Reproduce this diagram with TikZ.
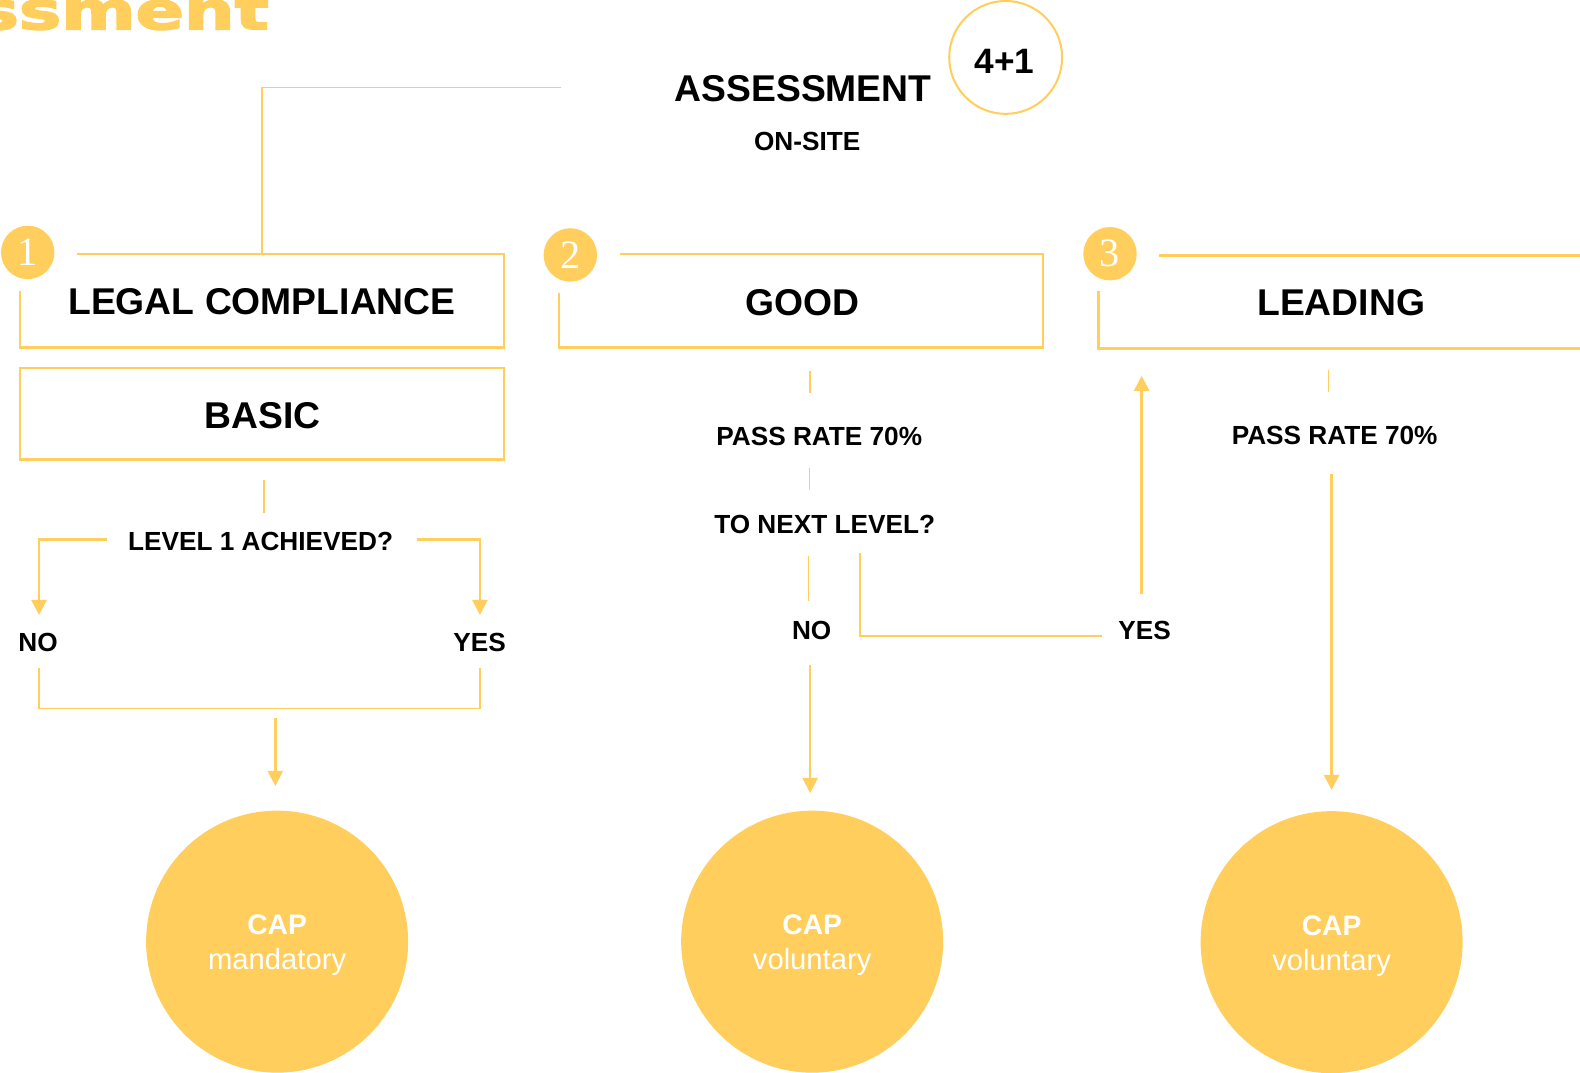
\documentclass[tikz,border=0pt]{standalone}
\usepackage{fontspec}
\setmainfont{Liberation Sans}
\newfontfamily\numfont{Liberation Serif}
\newfontfamily\heavyfont{DejaVu Sans}[BoldFeatures={FakeBold=3}]
\usetikzlibrary{arrows.meta}
\definecolor{gold}{HTML}{FFCE5C}
\begin{document}
\begin{tikzpicture}[x=1pt,y=-1pt,
  thinl/.style={draw=gold,line width=1.6pt},
  boxl/.style={draw=gold,line width=2.4pt},
  arr/.style={draw=gold,line width=2.4pt,-{Triangle[width=15pt,length=15pt]}},
  lbl/.style={font=\fontsize{26}{30}\selectfont\bfseries,inner sep=0pt,anchor=base},
  big/.style={font=\fontsize{37}{42}\selectfont\bfseries,inner sep=0pt,anchor=base},
  numc/.style={circle,fill=gold,minimum size=53pt,inner sep=0pt,text=white,font=\numfont\fontsize{40}{40}\selectfont},
  capc/.style={circle,fill=gold,minimum size=260pt,inner sep=0pt},
  captop/.style={font=\fontsize{28}{30}\selectfont\bfseries,text=white,inner sep=0pt,anchor=base},
  capbot/.style={font=\fontsize{29}{30}\selectfont,text=white,inner sep=0pt,anchor=base}]
\useasboundingbox (0,0) rectangle (1568,1064);

% partial title
\node[anchor=base east,inner sep=0pt,text=gold,font=\heavyfont\bfseries\fontsize{52}{52}\selectfont,xscale=1.36] (ttl) at (267,29) {ssment};

% header
\node[big] (assess) at (797,101) {ASSESSMENT};
\node[lbl] (onsite) at (801,149) {ON-SITE};
\node[circle,draw=gold,line width=2pt,minimum size=112pt,inner sep=0pt] (fourc) at (998,57) {};
\node[font=\fontsize{35}{35}\selectfont\bfseries,inner sep=0pt,anchor=base] (fourt) at (997,73) {4+1};

\coordinate (tl0) at (557,87);
\coordinate (tl1) at (260,87);
\coordinate (tl2) at (260,252);
\draw[thinl] (tl0) -- (tl1) -- (tl2);

% column 1
\draw[boxl] (76,252) -- (500,252) -- (500,345) -- (20,345) -- (20,289);
\node[big] (legal) at (260,312.5) {LEGAL COMPLIANCE};
\node[numc] (n1) at (27.5,250.5) {1};
\node[boxl,minimum width=480pt,minimum height=91pt,inner sep=0pt] (basicbox) at (260,410.5) {};
\node[big] (basic) at (260.5,425) {BASIC};

\coordinate (c1a) at (262,476);
\coordinate (c1b) at (262,509);
\draw[thinl] (c1a) -- (c1b);
\node[lbl] (lvl) at (258.6,546) {LEVEL 1 ACHIEVED?};
\coordinate (lvlL) at (106.5,535.2);
\coordinate (lvlR) at (413.5,535.2);
\coordinate (noTip) at (38.7,610.3);
\coordinate (yesTip) at (476.3,610.3);
\draw[arr] (lvlL) -| (noTip);
\draw[arr] (lvlR) -| (yesTip);
\node[lbl] (no1) at (37.7,647) {NO};
\node[lbl] (yes1) at (476,647) {YES};
\coordinate (noB) at (38.7,663);
\coordinate (yesB) at (476.3,663);
\coordinate (mergeR) at (476.3,703);
\draw[thinl] (noB) |- (mergeR) -- (yesB);
\coordinate (m1a) at (273.2,712.8);
\coordinate (m1b) at (273.2,780);
\draw[arr] (m1a) -- (m1b);
\node[capc] (cap1) at (275,934.5) {};
\node[captop] (cap1t) at (275,927.5) {CAP};
\node[capbot] (cap1b) at (275,962) {mandatory};

% column 2
\draw[boxl] (615,252) -- (1035,252) -- (1035,345) -- (555,345) -- (555,291);
\node[big] (good) at (796,313) {GOOD};
\node[numc] (n2) at (566,253) {2};
\coordinate (c2a) at (804,368);
\coordinate (c2b) at (804,390);
\draw[thinl] (c2a) -- (c2b);
\node[lbl] (pass2) at (813,442) {PASS RATE 70\%};
\coordinate (c2c) at (803.5,464);
\coordinate (c2d) at (803.5,486);
\draw[thinl] (c2c) -- (c2d);
\node[lbl] (next) at (818.4,529) {TO NEXT LEVEL?};
\coordinate (c2e) at (802.2,552);
\coordinate (c2f) at (802.2,596);
\draw[thinl] (c2e) -- (c2f);
\node[lbl] (no2) at (805.5,635) {NO};
\coordinate (c2g) at (804,660);
\coordinate (c2h) at (804,787);
\draw[arr] (c2g) -- (c2h);
\coordinate (ya) at (853.4,549);
\coordinate (yb) at (1093.2,631.2);
\draw[thinl] (ya) |- (yb);
\node[lbl] (yes2) at (1136,635) {YES};
\coordinate (upa) at (1133,589);
\coordinate (upb) at (1133,373);
\draw[arr] (upa) -- (upb);
\node[capc] (cap2) at (806,934.5) {};
\node[captop] (cap2t) at (806,927.5) {CAP};
\node[capbot] (cap2b) at (806,962) {voluntary};

% column 3
\draw[boxl] (1150,253.7) -- (1575,253.7);
\draw[boxl] (1090,288.8) -- (1090,345.7) -- (1575,345.7);
\node[big] (leading) at (1331,313) {LEADING};
\node[numc] (n3) at (1101.6,251.8) {3};
\coordinate (c3a) at (1318.5,367);
\coordinate (c3b) at (1318.5,389);
\draw[thinl] (c3a) -- (c3b);
\node[lbl] (pass3) at (1324.5,441.5) {PASS RATE 70\%};
\coordinate (c3c) at (1321.5,470);
\coordinate (c3d) at (1321.5,784);
\draw[arr] (c3c) -- (c3d);
\node[capc] (cap3) at (1321.5,935) {};
\node[captop] (cap3t) at (1321.5,928.5) {CAP};
\node[capbot] (cap3b) at (1321.5,963) {voluntary};
\end{tikzpicture}
\end{document}
